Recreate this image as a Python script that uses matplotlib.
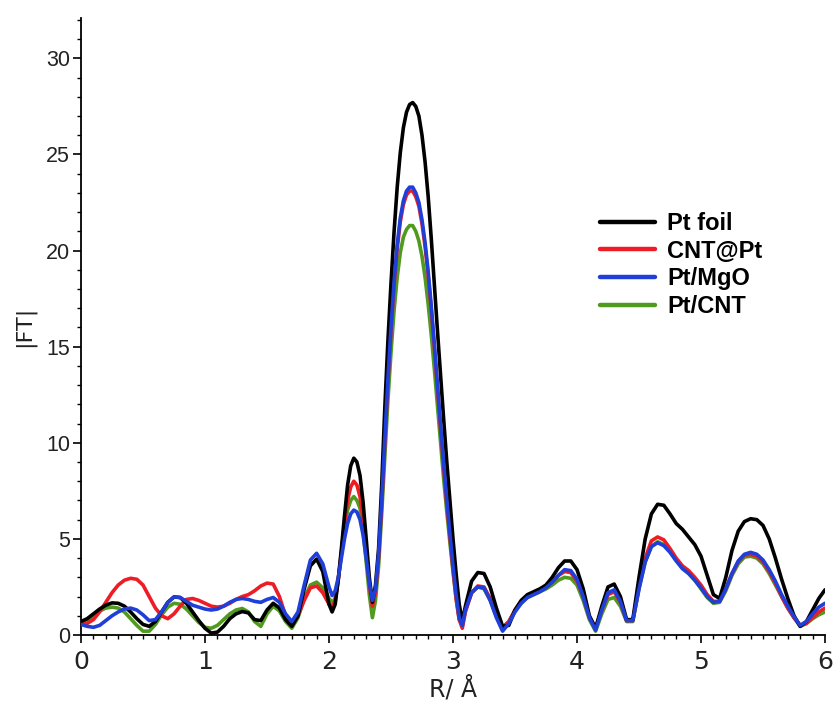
import numpy as np
import matplotlib
matplotlib.use("Agg")
import matplotlib.pyplot as plt
from matplotlib.ticker import MultipleLocator

# R grid (Å): 0.05 steps, finer (0.025) across the main Pt-Pt peaks
r = ([round(0.05 * i, 3) for i in range(40)]
     + [round(2.0 + 0.025 * i, 3) for i in range(45)]
     + [round(3.15 + 0.05 * i, 3) for i in range(58)])

pt_foil = ([0.70, 0.85, 1.10, 1.35, 1.55, 1.67, 1.65, 1.50, 1.20, 0.85,
            0.55, 0.45, 0.70, 1.20, 1.70, 1.98, 1.95, 1.65, 1.20, 0.75,
            0.35, 0.10, 0.15, 0.45, 0.85, 1.10, 1.22, 1.15, 0.80, 0.75,
            1.30, 1.65, 1.40, 0.80, 0.45, 1.00, 2.40, 3.60, 3.95, 3.30]
           + [1.6, 1.2, 1.6, 2.9, 4.5, 6.2, 7.8, 8.8, 9.2, 9.0,
              8.3, 6.9, 5.0, 3.0, 1.7, 2.6, 4.5, 7.8, 11.8, 15.3,
              18.3, 21.0, 23.3, 25.1, 26.4, 27.2, 27.6, 27.7, 27.5, 27.0,
              26.0, 24.6, 22.8, 20.6, 18.2, 15.8, 13.5, 11.2, 9.0, 7.0,
              5.0, 3.2, 1.6, 0.7, 1.5]
           + [2.80, 3.25, 3.20, 2.50, 1.40, 0.45, 0.50,
              1.30, 1.80, 2.10, 2.25, 2.40, 2.60, 3.00, 3.50, 3.85, 3.85,
              3.40, 2.40, 1.00, 0.35, 1.50, 2.50, 2.65, 2.00, 0.80, 0.80,
              3.00, 5.00, 6.30, 6.80, 6.75, 6.30, 5.80, 5.50, 5.10, 4.70,
              4.10, 3.10, 2.10, 1.90, 3.00, 4.40, 5.40, 5.90, 6.05, 6.00,
              5.70, 5.00, 4.00, 2.90, 1.90, 1.00, 0.45, 0.70, 1.30, 1.90,
              2.35])

cnt_at_pt = ([0.55, 0.60, 0.80, 1.20, 1.70, 2.20, 2.60, 2.85, 2.95, 2.90,
              2.60, 2.00, 1.40, 1.00, 0.85, 1.10, 1.50, 1.85, 1.90, 1.80,
              1.65, 1.50, 1.45, 1.50, 1.65, 1.85, 2.00, 2.10, 2.30, 2.55,
              2.70, 2.65, 2.00, 1.00, 0.60, 1.00, 1.80, 2.45, 2.55, 2.20]
             + [1.6, 1.45, 1.8, 2.9, 4.3, 5.8, 7.0, 7.7, 8.0, 7.8,
                7.2, 6.0, 4.3, 2.6, 1.5, 2.2, 4.0, 6.8, 10.0, 13.1,
                15.8, 18.2, 20.1, 21.5, 22.4, 22.9, 23.1, 23.1, 22.8, 22.3,
                21.4, 20.2, 18.7, 16.9, 14.9, 12.8, 10.7, 8.7, 6.8, 5.1,
                3.4, 1.9, 0.8, 0.35, 1.2]
             + [2.20, 2.55, 2.50, 1.90, 1.00, 0.40, 0.70,
                1.30, 1.75, 2.05, 2.20, 2.35, 2.50, 2.75, 3.10, 3.30, 3.25,
                2.80, 2.00, 0.90, 0.40, 1.30, 2.10, 2.25, 1.70, 0.75, 0.75,
                2.50, 4.00, 4.90, 5.10, 4.95, 4.50, 4.00, 3.60, 3.35, 3.00,
                2.60, 2.10, 1.75, 1.75, 2.40, 3.20, 3.80, 4.15, 4.20, 4.10,
                3.80, 3.30, 2.70, 2.00, 1.40, 0.90, 0.50, 0.60, 0.90, 1.20,
                1.40])

pt_mgo = ([0.55, 0.45, 0.40, 0.50, 0.75, 1.00, 1.20, 1.35, 1.40, 1.30,
           1.05, 0.75, 0.80, 1.20, 1.70, 1.98, 1.95, 1.75, 1.55, 1.45,
           1.35, 1.30, 1.35, 1.50, 1.70, 1.85, 1.90, 1.85, 1.75, 1.70,
           1.85, 1.95, 1.70, 1.10, 0.70, 1.20, 2.60, 3.90, 4.25, 3.70]
          + [2.5, 2.05, 2.3, 3.0, 4.0, 5.0, 5.8, 6.3, 6.5, 6.4,
             6.0, 5.2, 4.0, 2.7, 1.8, 2.4, 4.2, 7.0, 10.2, 13.3,
             16.0, 18.4, 20.3, 21.7, 22.6, 23.1, 23.3, 23.3, 23.0, 22.5,
             21.6, 20.4, 18.9, 17.1, 15.1, 13.0, 10.9, 8.9, 7.0, 5.3,
             3.6, 2.1, 0.9, 0.5, 1.3]
          + [2.20, 2.50, 2.45, 1.80, 0.90, 0.20, 0.60,
             1.20, 1.65, 1.95, 2.10, 2.25, 2.45, 2.75, 3.10, 3.40, 3.35,
             2.90, 2.00, 0.90, 0.25, 1.30, 2.20, 2.35, 1.75, 0.75, 0.75,
             2.40, 3.80, 4.60, 4.80, 4.65, 4.30, 3.85, 3.45, 3.20, 2.85,
             2.45, 2.00, 1.70, 1.75, 2.40, 3.20, 3.85, 4.20, 4.30, 4.20,
             3.90, 3.40, 2.80, 2.10, 1.50, 0.95, 0.50, 0.70, 1.10, 1.45,
             1.65])

pt_cnt = ([0.60, 0.75, 1.00, 1.25, 1.40, 1.45, 1.40, 1.20, 0.85, 0.50,
           0.20, 0.20, 0.55, 1.05, 1.45, 1.65, 1.60, 1.35, 1.00, 0.65,
           0.40, 0.35, 0.50, 0.80, 1.10, 1.30, 1.38, 1.20, 0.70, 0.45,
           1.10, 1.50, 1.25, 0.70, 0.35, 0.90, 1.90, 2.60, 2.75, 2.45]
          + [1.9, 1.7, 1.9, 2.9, 4.2, 5.5, 6.5, 7.0, 7.2, 7.0,
             6.6, 5.4, 3.8, 2.1, 0.9, 1.8, 3.6, 6.3, 9.3, 12.2,
             14.7, 16.9, 18.6, 19.9, 20.7, 21.1, 21.3, 21.3, 21.0, 20.5,
             19.7, 18.6, 17.2, 15.6, 13.8, 11.9, 10.0, 8.1, 6.4, 4.8,
             3.3, 1.9, 0.8, 0.5, 1.3]
          + [2.20, 2.50, 2.40, 1.80, 0.95, 0.35, 0.70,
             1.25, 1.65, 1.95, 2.10, 2.25, 2.40, 2.60, 2.85, 3.00, 2.95,
             2.60, 1.80, 0.80, 0.20, 1.10, 1.85, 1.95, 1.50, 0.70, 0.70,
             2.40, 3.80, 4.60, 4.85, 4.70, 4.35, 3.90, 3.50, 3.20, 2.85,
             2.40, 1.95, 1.65, 1.70, 2.30, 3.10, 3.70, 4.05, 4.10, 4.00,
             3.70, 3.20, 2.60, 2.00, 1.40, 0.90, 0.45, 0.60, 0.85, 1.05,
             1.20])

labels = ["Pt foil", "CNT@Pt", "Pt/MgO", "Pt/CNT"]
colors = ["#000000", "#ee1c25", "#1f3fd8", "#4f9a1f"]

fig = plt.figure(figsize=(8.36, 7.04), dpi=100)
ax = fig.add_axes([81 / 836, 1 - 635 / 704, 744 / 836, 617 / 704])

lw = 2.6
kw = dict(lw=lw, solid_joinstyle="round", solid_capstyle="round")
h_cnt, = ax.plot(r, pt_cnt, color=colors[3], zorder=2, **kw)
h_red, = ax.plot(r, cnt_at_pt, color=colors[1], zorder=3, **kw)
h_blk, = ax.plot(r, pt_foil, color=colors[0], zorder=4, **kw)
h_blu, = ax.plot(r, pt_mgo, color=colors[2], zorder=5, **kw)

ax.set_xlim(0, 6)
ax.set_ylim(0, 32.1)
ax.spines["top"].set_visible(False)
ax.spines["right"].set_visible(False)
for s in ("left", "bottom"):
    ax.spines[s].set_linewidth(1.3)

ax.xaxis.set_major_locator(MultipleLocator(1))
ax.xaxis.set_minor_locator(MultipleLocator(0.1))
ax.yaxis.set_major_locator(MultipleLocator(5))
ax.yaxis.set_minor_locator(MultipleLocator(1))
ax.tick_params(axis="both", which="major", direction="out", length=6, width=1.2,
               labelcolor="#222222")
ax.tick_params(axis="both", which="minor", direction="out", length=3, width=1.0)
ax.tick_params(axis="y", labelsize=15.5, pad=2)
ax.tick_params(axis="x", labelsize=18, pad=5)
for t in ax.get_xticklabels():
    t.set_family(["Liberation Sans Narrow", "DejaVu Sans"])
for t in ax.get_yticklabels():
    t.set_family(["Liberation Sans", "DejaVu Sans"])

ax.set_xlabel("R/ Å", fontsize=17, color="#222222",
              family=["Liberation Sans Narrow", "DejaVu Sans"], labelpad=1)
ax.set_ylabel("|FT|", fontsize=16, color="#222222",
              family=["Liberation Sans Narrow", "DejaVu Sans"], labelpad=8)

leg = ax.legend([h_blk, h_red, h_blu, h_cnt], labels, loc="upper left",
                bbox_to_anchor=((600 - 81) / 744, (635 - 212) / 617),
                frameon=False, handlelength=2.35, handletextpad=0.5,
                labelspacing=0.2, borderpad=0, borderaxespad=0,
                prop={"family": ["Liberation Sans", "DejaVu Sans"],
                      "weight": "bold", "size": 17})
for line in leg.get_lines():
    line.set_linewidth(3.2)

fig.savefig("out.png", dpi=100)
